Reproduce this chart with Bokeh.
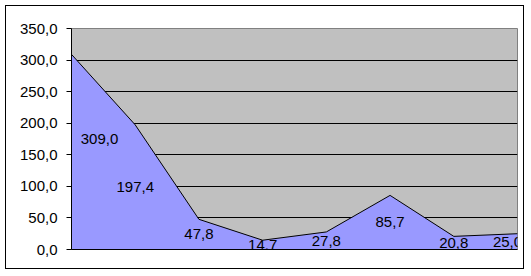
from bokeh.plotting import figure
from bokeh.models import ColumnDataSource, FixedTicker, Range1d
from bokeh.core.properties import value
from bokeh.embed import file_html
from bokeh.resources import INLINE

# data
categories = [0, 1, 2, 3, 4, 5, 6, 7]
values = [309.0, 197.4, 47.8, 14.7, 27.8, 85.7, 20.8, 25.0]
label_texts = ["309,0", "197,4", "47,8", "14,7", "27,8", "85,7", "20,8", "25,0"]
y_ticks = [0, 50, 100, 150, 200, 250, 300, 350]
y_tick_labels = ["0,0", "50,0", "100,0", "150,0", "200,0", "250,0", "300,0", "350,0"]

# label nudges (screen px)
label_dx = [28, 0, 0, 0, 0, 0, 0, -10]
label_dy = [-13, 0, 0, 0, 0, 0, 0, 0]

src = ColumnDataSource(dict(
    x=categories, y=values, half=[v / 2 for v in values], txt=label_texts,
    dx=label_dx, dy=label_dy,
))

p = figure(width=519, height=264, output_backend="svg", toolbar_location=None,
           x_range=Range1d(0, 7), y_range=Range1d(0, 350),
           min_border_left=65, min_border_right=8, min_border_top=22, min_border_bottom=21,
           styles={"margin": "5px 0 0 5px", "border": "1px solid black"})

p.background_fill_color = "#C0C0C0"
p.border_fill_color = "white"
p.outline_line_color = "#808080"
p.outline_line_width = 1

p.varea(x="x", y1=0, y2="y", source=src, fill_color="#9999FF", fill_alpha=1.0)
p.line(x="x", y="y", source=src, line_color="black", line_width=1)

p.text(x="x", y="half", text="txt", source=src, x_offset="dx", y_offset="dy",
       text_align="center", text_baseline="middle",
       text_font=value("Liberation Sans"), text_font_size="15px", text_color="black")

p.xgrid.visible = False
p.ygrid.ticker = FixedTicker(ticks=y_ticks[1:-1])
p.ygrid.grid_line_color = "black"
p.ygrid.grid_line_width = 1

ya = p.yaxis[0]
ya.ticker = FixedTicker(ticks=y_ticks)
ya.major_label_overrides = {t: l for t, l in zip(y_ticks, y_tick_labels)}
ya.major_label_text_font = "Liberation Sans"
ya.major_label_text_font_size = "15px"
ya.major_label_text_color = "black"
ya.major_tick_out = 5
ya.major_tick_in = 0
ya.minor_tick_line_color = None
ya.major_label_standoff = 9
ya.axis_line_color = "black"

xa = p.xaxis[0]
xa.ticker = FixedTicker(ticks=[])
xa.major_tick_line_color = None
xa.minor_tick_line_color = None
xa.axis_line_color = "black"
xa.major_label_standoff = 0

open("out.html", "w").write(file_html(p, INLINE))
